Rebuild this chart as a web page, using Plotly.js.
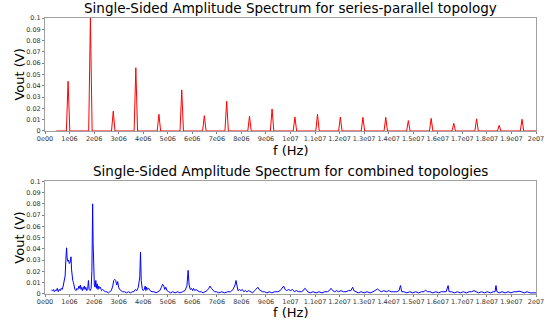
<!DOCTYPE html>
<html>
<head>
<meta charset="utf-8">
<script src="https://cdn.plot.ly/plotly-3.0.1.min.js"></script>
<style>html,body{margin:0;padding:0;background:#fff}#chart{width:553px;height:326px}</style>
</head>
<body>
<div id="chart"></div>
<script>
// Top: series-parallel topology, harmonic peaks (frequency in MHz, amplitude in V)
const topStartMHz = 0.46;
const topEndMHz = 20;
const peakFreqMHz = [0.94, 1.85, 2.78, 3.70, 4.64, 5.57, 6.49, 7.40, 8.33, 9.25, 10.18, 11.10, 12.03, 12.95, 13.88, 14.80, 15.73, 16.65, 17.58, 18.50, 19.43];
const peakAmpV   = [0.044, 0.100, 0.0175, 0.056, 0.0148, 0.0364, 0.0136, 0.0263, 0.013, 0.0195, 0.0124, 0.0148, 0.0124, 0.0121, 0.0121, 0.0092, 0.0112, 0.0068, 0.0107, 0.005, 0.0104];
const peakHalfWidthMHz = 0.07;

// Bottom: combined topologies (frequency in MHz, amplitude in V)
const combFreqMHz = [0.26,0.30,0.34,0.38,0.42,0.46,0.50,0.54,0.58,0.62,0.66,0.70,0.74,0.78,0.82,0.86,0.88,0.90,0.93,0.96,0.99,1.02,1.06,1.08,1.10,1.13,1.16,1.19,1.22,1.26,1.30,1.34,1.38,1.41,1.44,1.47,1.50,1.53,1.56,1.60,1.63,1.66,1.70,1.74,1.77,1.80,1.84,1.88,1.91,1.94,1.96,1.98,2.01,2.04,2.07,2.10,2.13,2.16,2.19,2.22,2.26,2.30,2.35,2.40,2.46,2.52,2.58,2.64,2.70,2.76,2.80,2.84,2.88,2.92,2.96,3.00,3.04,3.10,3.16,3.24,3.32,3.40,3.48,3.56,3.62,3.68,3.74,3.80,3.86,3.89,3.92,3.96,4.00,4.04,4.08,4.11,4.14,4.18,4.22,4.28,4.36,4.44,4.52,4.60,4.68,4.74,4.79,4.84,4.88,4.92,4.97,5.04,5.12,5.20,5.30,5.40,5.50,5.60,5.70,5.78,5.83,5.87,5.92,5.97,6.01,6.05,6.10,6.15,6.20,6.28,6.36,6.44,6.52,6.60,6.67,6.72,6.78,6.84,6.90,6.98,7.08,7.20,7.32,7.44,7.56,7.66,7.74,7.78,7.82,7.86,7.92,7.98,8.04,8.10,8.16,8.22,8.30,8.38,8.46,8.54,8.62,8.67,8.72,8.78,8.86,8.94,9.04,9.14,9.24,9.36,9.48,9.58,9.66,9.72,9.78,9.84,9.92,10.00,10.08,10.16,10.24,10.34,10.44,10.52,10.58,10.64,10.70,10.80,10.92,11.04,11.16,11.28,11.40,11.50,11.58,11.65,11.72,11.80,11.88,11.96,12.06,12.16,12.26,12.36,12.46,12.53,12.58,12.66,12.76,12.88,13.00,13.12,13.24,13.36,13.46,13.55,13.62,13.70,13.80,13.90,14.00,14.10,14.20,14.32,14.42,14.48,14.53,14.62,14.74,14.86,14.98,15.10,15.22,15.34,15.44,15.50,15.58,15.68,15.80,15.92,16.04,16.14,16.24,16.34,16.42,16.46,16.56,16.68,16.80,16.92,17.04,17.16,17.28,17.38,17.47,17.56,17.66,17.78,17.90,18.02,18.14,18.26,18.33,18.37,18.41,18.50,18.62,18.74,18.86,18.98,19.10,19.22,19.31,19.40,19.52,19.64,19.76,19.88,20.00];
const combAmpV = [0.0035,0.003,0.004,0.002,0.0035,0.003,0.005,0.002,0.004,0.003,0.005,0.004,0.007,0.012,0.016,0.035,0.041,0.032,0.029,0.030,0.027,0.028,0.033,0.022,0.016,0.012,0.010,0.006,0.004,0.003,0.005,0.004,0.007,0.005,0.008,0.004,0.006,0.003,0.005,0.007,0.004,0.006,0.003,0.005,0.012,0.004,0.003,0.005,0.020,0.080,0.045,0.016,0.008,0.006,0.012,0.005,0.009,0.004,0.007,0.005,0.006,0.003,0.004,0.003,0.002,0.002,0.001,0.002,0.003,0.007,0.012,0.013,0.012,0.008,0.011,0.006,0.004,0.003,0.002,0.002,0.001,0.002,0.001,0.002,0.002,0.004,0.003,0.006,0.015,0.037,0.012,0.005,0.003,0.004,0.007,0.003,0.006,0.004,0.005,0.003,0.002,0.002,0.001,0.002,0.003,0.006,0.0086,0.007,0.004,0.006,0.003,0.002,0.001,0.002,0.001,0.002,0.001,0.002,0.003,0.007,0.021,0.008,0.004,0.005,0.003,0.005,0.003,0.004,0.003,0.002,0.002,0.001,0.002,0.003,0.005,0.007,0.005,0.003,0.002,0.002,0.001,0.002,0.001,0.002,0.002,0.004,0.008,0.012,0.006,0.003,0.004,0.003,0.004,0.002,0.003,0.002,0.003,0.002,0.001,0.003,0.005,0.006,0.004,0.003,0.002,0.002,0.001,0.002,0.001,0.002,0.002,0.003,0.005,0.007,0.004,0.003,0.004,0.003,0.004,0.002,0.003,0.002,0.002,0.003,0.005,0.004,0.002,0.001,0.002,0.001,0.002,0.001,0.002,0.002,0.003,0.005,0.003,0.002,0.003,0.002,0.003,0.002,0.002,0.003,0.003,0.006,0.003,0.002,0.001,0.002,0.001,0.002,0.001,0.002,0.003,0.0045,0.003,0.002,0.003,0.002,0.003,0.002,0.002,0.002,0.003,0.0075,0.002,0.002,0.001,0.002,0.001,0.002,0.001,0.002,0.002,0.0035,0.002,0.002,0.001,0.002,0.001,0.002,0.002,0.002,0.0075,0.002,0.002,0.001,0.002,0.001,0.002,0.001,0.002,0.002,0.003,0.002,0.001,0.002,0.001,0.002,0.001,0.002,0.002,0.0075,0.002,0.001,0.002,0.001,0.002,0.001,0.002,0.002,0.0025,0.002,0.001,0.002,0.001,0.001,0.001];

// Tick labels
const xTickVals = [0,1e6,2e6,3e6,4e6,5e6,6e6,7e6,8e6,9e6,1e7,1.1e7,1.2e7,1.3e7,1.4e7,1.5e7,1.6e7,1.7e7,1.8e7,1.9e7,2e7];
const xTickText = ["0e00","1e06","2e06","3e06","4e06","5e06","6e06","7e06","8e06","9e06","1e07","1.1e07","1.2e07","1.3e07","1.4e07","1.5e07","1.6e07","1.7e07","1.8e07","1.9e07","2e07"];
const yTickVals = [0,0.01,0.02,0.03,0.04,0.05,0.06,0.07,0.08,0.09,0.1];
const yTickText = ["0","0.01","0.02","0.03","0.04","0.05","0.06","0.07","0.08","0.09","0.1"];

const titleTop = "Single-Sided Amplitude Spectrum for series-parallel topology";
const titleBottom = "Single-Sided Amplitude Spectrum for combined topologies";

// Build top trace points: baseline with narrow triangular peaks
const topX = [topStartMHz * 1e6], topY = [0];
peakFreqMHz.forEach((f, i) => {
  topX.push((f - peakHalfWidthMHz) * 1e6, f * 1e6, (f + peakHalfWidthMHz) * 1e6);
  topY.push(0, peakAmpV[i], 0);
});
topX.push(topEndMHz * 1e6); topY.push(0);

const font = "DejaVu Sans, sans-serif";
const tickFont = {family: font, size: 6.5, color: "#333"};
const axisCommon = {
  showgrid: false, zeroline: false, showline: true, mirror: true,
  linecolor: "#a0a0a0", linewidth: 1, ticks: "outside", ticklen: 2, tickcolor: "#808080",
  tickfont: tickFont, tickangle: 0, automargin: false
};

const data = [
  {x: topX, y: topY, type: "scatter", mode: "lines", line: {color: "#ff0000", width: 1}, xaxis: "x", yaxis: "y", hoverinfo: "skip"},
  {x: combFreqMHz.map(f => f * 1e6), y: combAmpV, type: "scatter", mode: "lines", line: {color: "#0000ff", width: 1}, xaxis: "x2", yaxis: "y2", hoverinfo: "skip"}
];

const layout = {
  width: 553, height: 326,
  margin: {l: 45, r: 17, t: 18, b: 32},
  paper_bgcolor: "#fff", plot_bgcolor: "#fff",
  showlegend: false,
  xaxis: Object.assign({}, axisCommon, {domain: [0, 1], range: [0, 2e7], tickvals: xTickVals, ticktext: xTickText, anchor: "y", ticklabelstandoff: -1}),
  yaxis: Object.assign({}, axisCommon, {domain: [0.5906, 1], range: [0, 0.1], tickvals: yTickVals, ticktext: yTickText, anchor: "x"}),
  xaxis2: Object.assign({}, axisCommon, {domain: [0, 1], range: [0, 2e7], tickvals: xTickVals, ticktext: xTickText, anchor: "y2", ticklabelstandoff: -1}),
  yaxis2: Object.assign({}, axisCommon, {domain: [0, 0.4083], range: [0, 0.1], tickvals: yTickVals, ticktext: yTickText, anchor: "x2"}),
  annotations: [
    {text: titleTop, xref: "paper", yref: "paper", x: 0.5, y: 1.038, xanchor: "center", yanchor: "middle", showarrow: false, font: {family: font, size: 13.5, color: "#000"}},
    {text: titleBottom, xref: "paper", yref: "paper", x: 0.5, y: 0.4457, xanchor: "center", yanchor: "middle", showarrow: false, font: {family: font, size: 13.5, color: "#000"}},
    {text: "f (Hz)", xref: "paper", yref: "paper", x: 0.5, y: 0.5199, xanchor: "center", yanchor: "middle", showarrow: false, font: {family: font, size: 13, color: "#000"}},
    {text: "f (Hz)", xref: "paper", yref: "paper", x: 0.5, y: -0.0685, xanchor: "center", yanchor: "middle", showarrow: false, font: {family: font, size: 13, color: "#000"}},
    {text: "Vout (V)", xref: "paper", yref: "paper", x: -0.051, y: 0.795, xanchor: "center", yanchor: "middle", textangle: -90, showarrow: false, font: {family: font, size: 13, color: "#000"}},
    {text: "Vout (V)", xref: "paper", yref: "paper", x: -0.051, y: 0.204, xanchor: "center", yanchor: "middle", textangle: -90, showarrow: false, font: {family: font, size: 13, color: "#000"}}
  ]
};

Plotly.newPlot("chart", data, layout, {staticPlot: true, displayModeBar: false});
</script>
</body>
</html>
